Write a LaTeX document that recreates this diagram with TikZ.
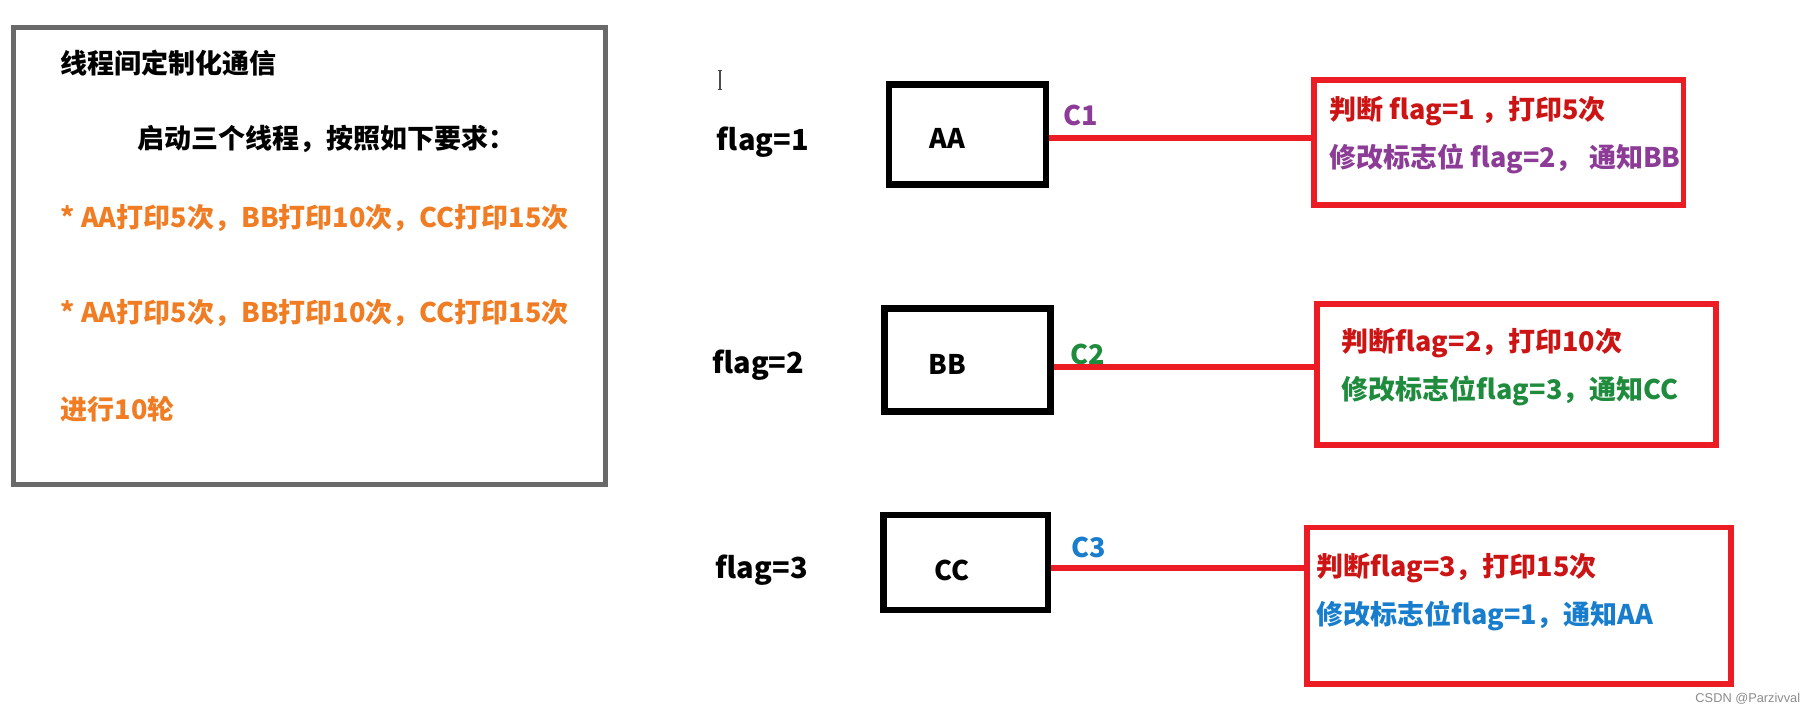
\documentclass[tikz,border=0pt]{standalone}
\usepackage{fontspec}
\setmainfont{Noto Sans CJK SC}
\usetikzlibrary{calc}
\definecolor{boxgray}{RGB}{105,105,105}
\definecolor{txtorange}{RGB}{240,125,35}
\definecolor{lnred}{RGB}{235,28,36}
\definecolor{txtred}{RGB}{205,20,20}
\definecolor{txtpurple}{RGB}{140,60,150}
\definecolor{txtgreen}{RGB}{30,140,60}
\definecolor{txtblue}{RGB}{25,125,205}
\definecolor{wmgray}{RGB}{140,140,140}
\tikzset{
  sz/.style 2 args={minimum width=#1*0.5797pt, minimum height=#2*0.5797pt},
  txt/.style={font=\fontsize{13.5}{16}\selectfont\bfseries, inner sep=0pt, anchor=west},
  flagtxt/.style={txt, font=\fontsize{14.5}{17}\selectfont\bfseries},
  thread/.style={draw=black, line width=3.2pt, inner sep=0pt},
  redbox/.style={draw=lnred, line width=2.9pt, inner sep=0pt},
  redline/.style={draw=lnred, line width=3.2pt},
}
\begin{document}
\begin{tikzpicture}[x=0.5797pt,y=-0.5797pt]
\useasboundingbox[fill=white] (0,0) rectangle (1568,616);
% left panel
\node[draw=boxgray, line width=2.5pt, sz={510}{394}] (intro) at (267,221) {};
\node[txt] (t0) at (52,54) {线程间定制化通信};
\node[txt] (t1) at (118,120) {启动三个线程，按照如下要求：};
\node[txt, text=txtorange] (t2) at (52,188) {* AA打印5次，BB打印10次，CC打印15次};
\node[txt, text=txtorange] (t3) at (52,270) {* AA打印5次，BB打印10次，CC打印15次};
\node[txt, text=txtorange] (t4) at (52,353) {进行10轮};
% cursor
\draw[line width=0.6pt, draw=black!70] (619,61) -- (623,61) (621,61) -- (621,77) (619,77) -- (623,77);
% flags
\node[flagtxt] (f1) at (618,123) {flag=1};
\node[flagtxt] (f2) at (614,315) {flag=2};
\node[flagtxt] (f3) at (617,492) {flag=3};
% thread boxes
\node[thread, sz={135}{86}] (AA) at (834.5,116) {};
\node[thread, sz={143}{89}] (BB) at (834.5,310.5) {};
\node[thread, sz={142}{82}] (CC) at (833,485) {};
\node[txt, anchor=center] (AAl) at (817,119) {AA};
\node[txt, anchor=center] (BBl) at (817,314) {BB};
\node[txt, anchor=center] (CCl) at (821,492) {CC};
% condition labels
\node[txt, anchor=center, text=txtpurple] (c1) at (932,100) {C1};
\node[txt, anchor=center, text=txtgreen] (c2) at (938,306) {C2};
\node[txt, anchor=center, text=txtblue] (c3) at (939,472) {C3};
% red boxes
\node[redbox, sz={319}{108}] (r1) at (1292.5,123) {};
\node[redbox, sz={344}{122}] (r2) at (1308,323) {};
\node[redbox, sz={366}{135}] (r3) at (1310,522.5) {};
% connectors
\draw[redline] ([shift={(0,3)}]AA.east) -- ([shift={(0,3)}]AA.east -| r1.west);
\draw[redline] ([shift={(0,6)}]BB.east) -- ([shift={(0,6)}]BB.east -| r2.west);
\draw[redline] ([shift={(0,5)}]CC.east) -- ([shift={(0,5)}]CC.east -| r3.west);
% box texts
\node[txt, text=txtred] (r1a) at (1146,96) {判断 flag=1 ，打印5次};
\node[txt, text=txtpurple] (r1b) at (1146,137) {修改标志位 flag=2， 通知BB};
\node[txt, text=txtred] (r2a) at (1157,296) {判断flag=2，打印10次};
\node[txt, text=txtgreen] (r2b) at (1157,337) {修改标志位flag=3，通知CC};
\node[txt, text=txtred] (r3a) at (1135,490) {判断flag=3，打印15次};
\node[txt, text=txtblue] (r3b) at (1135,531) {修改标志位flag=1，通知AA};
% watermark
\node[font=\fontspec{Liberation Sans}\fontsize{6.4}{8}\selectfont, text=wmgray, inner sep=0pt, anchor=east] (wm) at (1553,603) {CSDN @Parzivval};
\end{tikzpicture}
\end{document}
